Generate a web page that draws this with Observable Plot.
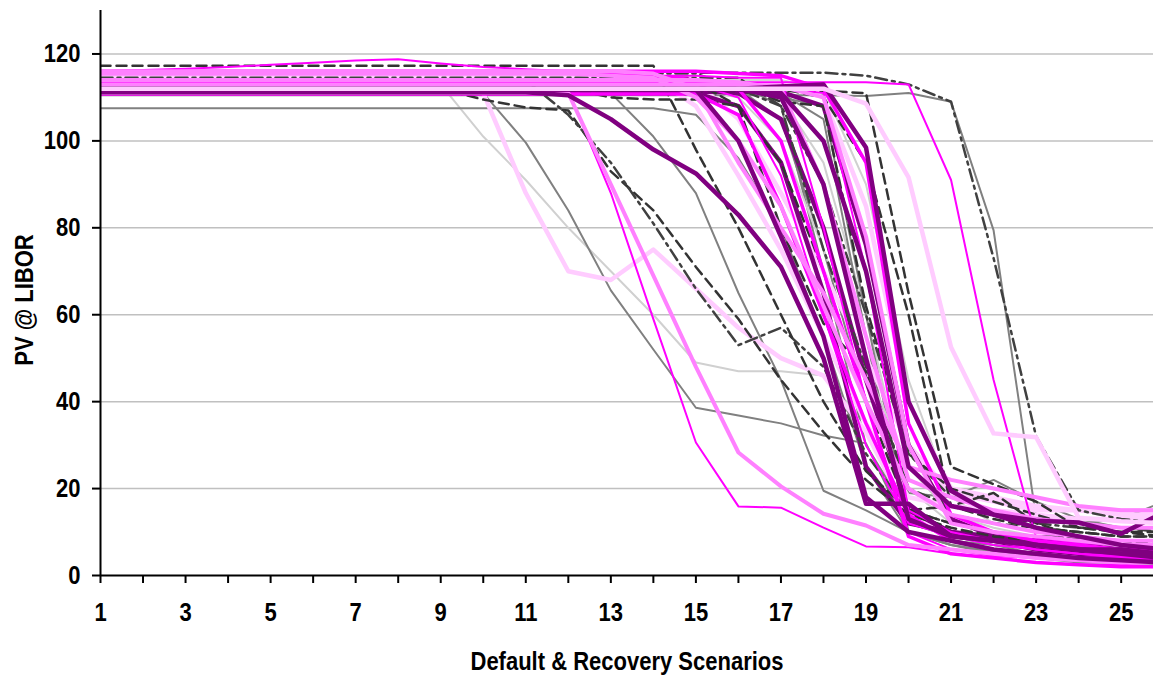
<!DOCTYPE html>
<html><head><meta charset="utf-8">
<script src="https://cdn.jsdelivr.net/npm/d3@7"></script>
<script src="https://cdn.jsdelivr.net/npm/@observablehq/plot@0.6"></script>
<style>body{margin:0;background:#fff;}</style>
</head><body><div id="chart"></div>
<script>
const scenarios = [1,2,3,4,5,6,7,8,9,10,11,12,13,14,15,16,17,18,19,20,21,22,23,24,25,26];
const xTicks = [1,2,3,4,5,6,7,8,9,10,11,12,13,14,15,16,17,18,19,20,21,22,23,24,25];
const xLabels = [1,3,5,7,9,11,13,15,17,19,21,23,25];
const yTicks = [0,20,40,60,80,100,120];
const gridValues = [20,40,60,80,100,120];
const xTitle = "Default & Recovery Scenarios";
const yTitle = "PV @ LIBOR";

// series values (PV at each scenario 1..26)
const s01 = [113,113,113,113,113,113,113,113,113,101,91,80,70,60,49,47,47,46,35,10,7,6,5,4.5,4,4];
const s02 = [112,112,112,112,112,112,112,112,112,111,99.6,84,65.6,52,38.6,36.8,35,32.2,30.4,10,7,5.5,4.5,4,3.5,3];
const s03 = [114,114,114,114,114,114,114,114,114,111,88,70,68,75,66,57,50,46,33,14,9,8,7,6.5,6,6];
const s04 = [111.5,111.5,111.5,111.5,111.5,111.5,111.5,111.5,111.5,111.5,111.5,111.5,88,59,30.6,15.9,15.6,11,6.7,6.5,5,4,3,2.5,2.5,2];
const s05 = [111,111,111,111,111,111,111,111,111,111,111,111,90,69,48,28.3,20.5,14.2,11.5,7,6,5,4,3.5,3,3];
const s06 = [112,112,112,112,112,112,112,112,112,109.5,107.7,107,93,84,71,59,45,33,22,14,11,9,8,7.5,7,7];
const s07 = [114,114,114,114,114,114,114,114,114,114,114,106,95,81,66,53,57,48,28,15,12,10,9,9,8,8];
const s08 = [111.2,111.2,111.2,111.2,111.2,111.2,111.2,111.2,111.2,111.2,111.2,110.5,105,98,92.5,83,71,50,16.5,16.5,9,8,7,6,5,4];
const s09 = [117.3,117.3,117.3,117.3,117.3,117.3,117.3,117.3,117.3,117.3,117.3,117.3,117.3,117.3,98,80,60,40,24,15,12,10,9,8.5,8,8];
const s10 = [112,112,112,112,112,112,112,112,112,112,112,112,112,112,112,112,112,112,108.6,91.6,52.5,32.7,31.8,13.3,12.5,12];
const s11 = [113.5,113.5,113.5,113.5,113.5,113.5,113.5,113.5,113.5,113.5,113.5,113.5,113.5,113.5,113.5,113.5,113.5,113.5,113.5,113,91,45,8.7,7.5,7,6.5];
const s12 = [110.5,110.5,110.5,110.5,110.5,110.5,110.5,110.5,110.5,110.5,110.5,110.5,110.5,110.5,110.5,110.5,110.5,110.5,110.3,111,109,79.4,13.3,12,13,17];
const s13 = [115.7,115.7,115.7,115.7,115.7,115.7,115.7,115.7,115.7,115.7,115.7,115.7,115.7,115.7,115.7,115.7,115.7,115.7,115,113,109,73,32,15,13,12];
const s14 = [111.5,111.5,111.5,111.5,111.5,111.5,111.5,111.5,111.5,111.5,111.5,111.5,111.5,111.5,111.5,111.5,111.5,111.5,111,65,25,21,17,11,10,10];
const s15 = [112,112,112,112,112,112,112,112,112,112,112,112,112,112,112,112,112.5,113,98.5,40,19.5,14,11,9,7,6];
const s16 = [111.8,111.8,111.8,111.8,111.8,111.8,111.8,111.8,111.8,111.8,111.8,111.8,111.8,111.8,111.8,111.8,111,100,70,25,16,14,12.6,12.2,9.6,14.5];
const s17 = [112.5,112.5,112.5,112.5,112.5,112.5,112.5,112.5,112.5,112.5,112.5,112.5,111,101,88,65,45,19.5,15,10,8,6,5,4,3.5,3];
const s18 = [107.5,107.5,107.5,107.5,107.5,107.5,107.5,107.5,107.5,107.5,107.5,107.5,107.5,107.5,106,96,80,55,25,10,8,7,6,5,5,4];
const b01 = [115.5,115.5,115.5,115.5,115.5,115.5,115.5,115.5,115.5,115.5,115.5,115.5,115,114.5,110,100,85,62,40,20,14,12,10,9,8,8];
const b02 = [113,113,113,113,113,113,113,113,113,113,113,113,113,113,113,110,92,60,30,12,9,7,6,5,4.5,4];
const b03 = [111.5,111.5,111.5,111.5,111.5,111.5,111.5,111.5,111.5,111.5,111.5,111.5,111.5,111.5,111.5,111,105,80,45,15,10,8,6,5,4,3.5];
const b04 = [114.5,114.5,114.5,114.5,114.5,114.5,114.5,114.5,114.5,114.5,114.5,114.5,114.5,114.5,108,92,75,55,35,18,16,15,14,13,13,13];
const b05 = [113,113,113,113,113,113,113,113,113,113,113,113,113,113,113,113,108,70,30,14,10,8,6,5,5,4];
const b06 = [112,112,112,112,112,112,112,112,112,112,112,112,110,109.5,109.5,108,80,58,47,20,14,12,11,10,9,9];
const b07 = [113.5,113.5,113.5,113.5,113.5,113.5,113.5,113.5,113.5,113.5,113.5,113.5,113.5,113.5,113.5,113.5,110,95,60,20,12,10,9,8,8,7];
const b08 = [110.8,110.8,110.8,110.8,110.8,110.8,110.8,110.8,110.8,110.8,110.8,110.8,110.8,110.8,110.8,106,85,60,35,14,8,6,5,4,4,3];
const b09 = [114,114,114,114,114,114,114,114,114,114,114,114,114,114,114,113.5,112,90,55,22,18,15,13,12,11,11];
const b10 = [111.3,111.3,111.3,111.3,111.3,111.3,111.3,111.3,111.3,111.3,111.3,111.3,111.3,111.3,111.3,111.3,111.3,108,76,30,13,9,7,6,5,5];
const b11 = [115.5,115.5,115.5,115.5,115.5,115.5,115.5,115.5,115.5,115.5,115.5,115.5,115.5,115.5,115.5,112,108,75,48,20,16,14,12,11,11,10];
const b12 = [113,113,113,113,113,113,113,113,113,113,113,113,113,113,113,113,113,110,85,40,20,18,16,15,15,15];
const b13 = [114,114,114,114,114,114,114,114,114,114,114,114,114,114,114,114,110,108,60,12,9,7,5,4,3,3];
const b14 = [116,116.3,116.6,117,117.5,118,118.5,118.8,117.8,117,116.5,116,115.5,115,115,114.5,114.5,80,40,10,6,4.5,4,3.5,3,3];
const b15 = [111.8,111.8,111.8,111.8,111.8,111.8,111.8,111.8,111.8,111.8,111.8,111.8,111.8,111.8,111.8,100,78,55,18,10,8,6,5,4,3.5,3];
const b16 = [113,113,113,113,113,113,113,113,113,113,113,113,113,113,113,113,109,108,62,28,20,17,14,11,10,9];
const b17 = [114,114,114,114,114,114,114,114,114,114,114,114,114,114,114,114,114,112,90,45,18,12,10,9,8,8];
const b18 = [115.5,115.5,115.5,115.5,115.5,115.5,115.5,115.5,115.5,115.5,115.5,115.5,115.5,115,114,112,100,70,40,9,5,4,3,2.5,2,2];
const b19 = [116,116,116,116,116,116,116,116,116,116,116,116,116,115.5,112,95,80,65,45,25,22,20,18,16,15,15];
const b20 = [112,112,112,112,112,112,112,112,112,112,112,112,112,112,112,112,110,90,50,13,9,8,7,6,6,5];
const b21 = [111,111,111,111,111,111,111,111,111,111,111,111,111,111,111,111,111,105,55,10,7,5,4,3,3,2.5];
const b22 = [114.5,114.5,114.5,114.5,114.5,114.5,114.5,114.5,114.5,114.5,114.5,114.5,114.5,114.5,114.5,114.5,108,90,60,28,18,15,13,12,11,11];
const b23 = [113.5,113.5,113.5,113.5,113.5,113.5,113.5,113.5,113.5,113.5,113.5,113.5,113.5,113.5,113.5,105,88,70,50,30,19,17,15,15,14,14];
const b24 = [112,112,112,112,112,112,112,112,112,112,112,112,112,112,112,112,112,111,70,15,10,8,6,5,4,4];
const b25 = [113.5,113.5,113.5,113.5,113.5,113.5,113.5,113.5,113.5,113.5,113.5,113.5,113.5,113.5,113.5,108,95,70,40,15,16,19,12,9,8,7];
const b26 = [112,112,112,112,112,112,112,112,112,112,112,112,112,112,112,112,105,75,40,19,18,22,17,13,11,10];
const b27 = [111,111,111,111,111,111,111,111,111,111,111,111,111,111,111,108,95,65,25,12,10,9,8,7,6,5];
const b28 = [112,112,112,112,112,112,112,112,112,112,112,112,112,112,112,110,100,75,48,25,14,11,9,8,8,7];
const b29 = [113,113,113,113,113,113,113,113,113,113,113,113,113,113,113,113,112.5,110,78,30,12,10,9,8,7,7];
const b30 = [116,116,116,116,116,116,116,116,116,116,116,116,116,116,116,115.5,115,112,95,35,14,10,8,7,6,6];
const b31 = [112,112,112,112,112,112,112,112,112,112,112,112,112,112,112,112,112,110,95,60,16,13,11,10,9,9];

// line styles (kept apart from the values)
const styles = {
  lg: {color: "#d0d0d0", width: 2},
  gt: {color: "#808080", width: 2},
  lp: {color: "#ffccff", width: 4.5},
  pk: {color: "#ff80ff", width: 4},
  mt: {color: "#ff00ff", width: 2},
  mk: {color: "#ff00ff", width: 3.5},
  pt: {color: "#800080", width: 4.5},
  ds: {color: "#333333", width: 2.5, dash: "10,6"},
  dd: {color: "#404040", width: 2.5, dash: "12,5,3,5"}
};
// drawing order (later = on top)
const seriesList = [
  [s01,"lg"],[s02,"gt"],[b05,"gt"],[b07,"lg"],[s18,"gt"],[s12,"gt"],[b13,"gt"],[b17,"lg"],[b21,"gt"],[b26,"gt"],[b28,"lg"],[s17,"gt"],
  [s03,"lp"],[b04,"lp"],[b12,"lp"],[b23,"lp"],
  [b03,"pt"],[b10,"pt"],[b27,"pt"],
  [s06,"ds"],[s07,"dd"],[b06,"ds"],[b11,"dd"],[s09,"ds"],[b16,"ds"],[b22,"dd"],[b25,"ds"],[s13,"dd"],[s14,"ds"],[b31,"ds"],
  [b02,"mt"],[b08,"mk"],[s04,"mt"],[b14,"mt"],[b18,"mk"],[s11,"mt"],[b24,"mt"],[b30,"mk"],
  [b01,"pk"],[b09,"pk"],[s05,"pk"],[b19,"pk"],[b29,"pk"],
  [s08,"pt"],[b15,"pt"],[b20,"pt"],[s15,"pt"],[s16,"pt"],
  [s10,"lp"]
];

const font = "'Liberation Sans', Arial, sans-serif";
const textOpts = {fontFamily: font, fontWeight: "bold", fontSize: 25};
const marks = [Plot.ruleY(gridValues, {stroke: "#c0c0c0", strokeWidth: 1.5})];
for (const [vals, key] of seriesList) {
  const st = styles[key];
  const data = scenarios.map((x, i) => ({x, y: vals[i]}));
  marks.push(Plot.line(data, {x: "x", y: "y", stroke: st.color, strokeWidth: st.width,
    strokeDasharray: st.dash, clip: true}));
}
marks.push(
  Plot.ruleY([0], {stroke: "black", strokeWidth: 2}),
  Plot.ruleX([1], {stroke: "black", strokeWidth: 2}),
  Plot.axisY({ticks: yTicks, tickSize: 8, tickPadding: 12, strokeWidth: 2, label: null, ...textOpts}),
  Plot.axisX({ticks: xTicks, tickSize: 8, tickPadding: 20, strokeWidth: 2, label: null, ...textOpts,
    tickFormat: d => xLabels.includes(d) ? String(d) : ""}),
  Plot.text([yTitle], {frameAnchor: "left", textAnchor: "middle", lineAnchor: "middle",
    dx: -76, dy: 7, rotate: -90, text: d => d, ...textOpts}),
  Plot.text([xTitle], {frameAnchor: "bottom", textAnchor: "middle", lineAnchor: "middle",
    dy: 86, text: d => d, ...textOpts})
);

const chart = Plot.plot({
  width: 1153, height: 675,
  marginLeft: 100, marginRight: 0, marginTop: 10, marginBottom: 100,
  x: {domain: [1, 25.76]},
  y: {domain: [0, 130]},
  style: {fontFamily: font, fontWeight: "bold", fontSize: "25px", color: "black", background: "white"},
  marks
});
document.getElementById("chart").appendChild(chart);
// condense text horizontally (the reference uses a narrow face)
chart.querySelectorAll("text").forEach(el => {
  const L = el.getComputedTextLength();
  if (L > 0) {
    el.setAttribute("textLength", (L * 0.88).toFixed(2));
    el.setAttribute("lengthAdjust", "spacingAndGlyphs");
  }
});
</script>
</body></html>
